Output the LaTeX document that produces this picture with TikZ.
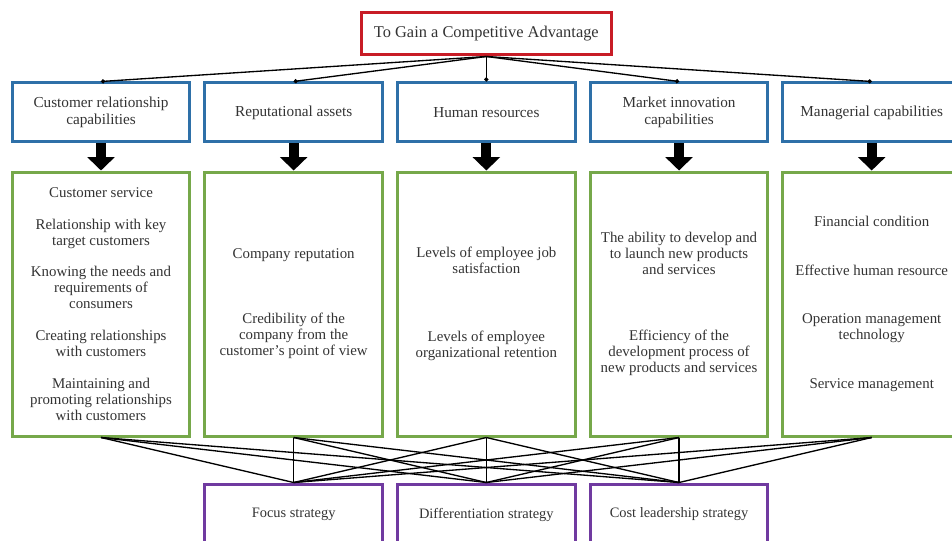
\documentclass[tikz,border=0pt]{standalone}
\usepackage{fontspec}
\setmainfont{Liberation Serif}
\usetikzlibrary{positioning,arrows.meta}

\definecolor{goalred}{RGB}{200,28,38}
\definecolor{capblue}{RGB}{46,112,168}
\definecolor{resgreen}{RGB}{118,168,74}
\definecolor{stratpurple}{RGB}{112,58,160}

\begin{document}
\begin{tikzpicture}[x=0.03cm, y=-0.03cm,
    boxbase/.style={rectangle, draw, line width=\boxlinewidth, minimum width=\boxw, align=center, text=black!80},
    goalbox/.style={boxbase, draw=goalred, minimum width=7.5cm, minimum height=1.26cm, font=\fontsize{14}{16}\selectfont},
    capbox/.style={boxbase, draw=capblue, minimum height=1.77cm, font=\fontsize{13}{14.5}\selectfont},
    resbox/.style={boxbase, draw=resgreen, minimum height=7.92cm, font=\fontsize{12.7}{13.6}\selectfont},
    stratbox/.style={boxbase, draw=stratpurple, minimum height=1.83cm, font=\fontsize{12.3}{14}\selectfont},
    feed/.style={line width=0.04cm, -{Circle[length=3.5pt]}},
    bigarrow/.style={line width=0.3cm, -{Triangle[width=0.8cm, length=0.4cm]}},
    link/.style={line width=0.04cm}]
        \def\boxgap{0.36cm}
        \def\boxw{5.33cm}
        \def\boxlinewidth{0.09cm}
        \def\gapa{13.6pt}

        \useasboundingbox (0,0) rectangle (952,541);

        % capabilities
        \node[capbox] (a1) at (101,112.5) {Customer relationship\\ capabilities};
        \node[capbox, right = \boxgap of a1] (b1) {Reputational assets};
        \node[capbox, right = \boxgap of b1] (c1) {Human resources};
        \node[capbox, right = \boxgap of c1] (d1) {Market innovation\\ capabilities};
        \node[capbox, right = \boxgap of d1] (e1) {Managerial capabilities};

        \node[goalbox, above = 0.75cm of c1] (goal) {To Gain a Competitive Advantage};

        % resources
        \node[resbox, below = 0.81cm of a1] (a2) {Customer service\\[\gapa] Relationship with key\\ target customers\\[\gapa] Knowing the needs and\\ requirements of\\ consumers\\[\gapa] Creating relationships\\ with customers\\[\gapa] Maintaining and\\ promoting relationships\\ with customers};
        \node[resbox, below = 0.81cm of b1] (b2) {Company reputation\\[42pt] Credibility of the\\ company from the\\ customer's point of view};
        \node[resbox, below = 0.81cm of c1] (c2) {Levels of employee job\\ satisfaction\\[45pt] Levels of employee\\ organizational retention};
        \node[resbox, below = 0.81cm of d1] (d2) {The ability to develop and\\ to launch new products\\ and services\\[43pt] Efficiency of the\\ development process of\\ new products and services};
        \node[resbox, below = 0.81cm of e1] (e2) {Financial condition\\[28pt] Effective human resource\\[28pt] Operation management\\ technology\\[28pt] Service management};

        % strategies
        \node[stratbox, below = 1.35cm of b2] (b3) {Focus strategy};
        \node[stratbox, below = 1.35cm of c2] (c3) {Differentiation strategy};
        \node[stratbox, below = 1.35cm of d2] (d3) {Cost leadership strategy};

        \draw[feed] (goal.south) -- (a1.north);
        \draw[feed] (goal.south) -- (b1.north);
        \draw[feed] (goal.south) -- (c1.north);
        \draw[feed] (goal.south) -- (d1.north);
        \draw[feed] (goal.south) -- (e1.north);

        \draw[bigarrow] (a1.south) -- (a2.north);
        \draw[bigarrow] (b1.south) -- (b2.north);
        \draw[bigarrow] (c1.south) -- (c2.north);
        \draw[bigarrow] (d1.south) -- (d2.north);
        \draw[bigarrow] (e1.south) -- (e2.north);

        \draw[link] (a2.south) -- (b3.north);
        \draw[link] (a2.south) -- (c3.north);
        \draw[link] (a2.south) -- (d3.north);
        \draw[link] (b2.south) -- (b3.north);
        \draw[link] (b2.south) -- (c3.north);
        \draw[link] (b2.south) -- (d3.north);
        \draw[link] (c2.south) -- (b3.north);
        \draw[link] (c2.south) -- (c3.north);
        \draw[link] (c2.south) -- (d3.north);
        \draw[link] (d2.south) -- (b3.north);
        \draw[link] (d2.south) -- (c3.north);
        \draw[link] (d2.south) -- (d3.north);
        \draw[link] (e2.south) -- (b3.north);
        \draw[link] (e2.south) -- (c3.north);
        \draw[link] (e2.south) -- (d3.north);
    \end{tikzpicture}
\end{document}
